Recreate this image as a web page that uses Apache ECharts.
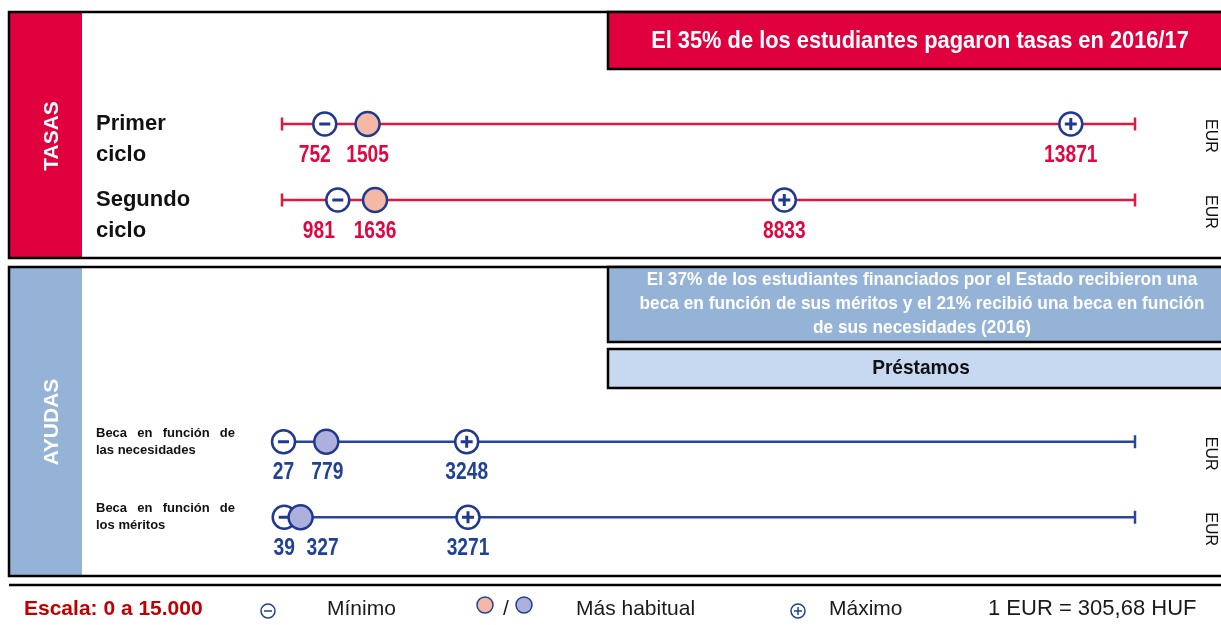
<!DOCTYPE html>
<html>
<head>
<meta charset="utf-8">
<title>Tasas y ayudas</title>
<script src="https://cdn.jsdelivr.net/npm/echarts@6/dist/echarts.min.js"></script>
<style>
  html, body { margin: 0; padding: 0; background: #fff; }
  #chart { width: 1221px; height: 625px; }
</style>
</head>
<body>
<div id="chart"></div>
<script>
// escala común (0 a 15.000 EUR)
const scaleRange = [0, 15000];

const tasasRows = ['Primer ciclo', 'Segundo ciclo'];
const tasasMin = [752, 981];
const tasasHab = [1505, 1636];
const tasasMax = [13871, 8833];

const ayudasRows = ['Beca en función de las necesidades', 'Beca en función de los méritos'];
const ayudasMin = [27, 39];
const ayudasHab = [779, 327];
const ayudasMax = [3248, 3271];

const RED = '#e1003e';
const RED_TXT = '#e3053f';
const NAVY = '#21388f';
const BLUE_LINE = '#28479b';
const BLUE_TXT = '#1f4196';
const PINK = '#f4b9a5';
const LILAC = '#adb0dc';
const STRIP_BLUE = '#95b3d7';
const LIGHT_BLUE = '#c6d9f1';
const SANS = "'Liberation Sans', Arial, sans-serif";
const PLUS = 'path://M0,4.5H12V7.5H0Z M4.5,0H7.5V12H4.5Z';

// desplazamiento horizontal de las etiquetas numéricas para que no se pisen
const tasasShift = { min: [-10, -19], hab: [0, 0], max: [0, 0] };
const ayudasShift = { min: [0, 0], hab: [1, 22], max: [0, 0] };

function panelSeries(gi, mins, habs, maxs, lineColor, txtColor, habFill, shift) {
  const ring = { color: '#fff', borderColor: NAVY, borderWidth: 2.5, opacity: 1 };
  const base = { type: 'scatter', xAxisIndex: gi, yAxisIndex: gi, clip: false, silent: true };
  const list = mins.map((_, i) => ({
    type: 'line', xAxisIndex: gi, yAxisIndex: gi, silent: true, z: 1,
    symbol: 'none', lineStyle: { color: lineColor, width: 2.5 },
    data: [[scaleRange[0], i], [scaleRange[1], i]]
  }));
  list.push(Object.assign({}, base, {
    z: 2, symbol: 'rect', symbolSize: [2.5, 13], itemStyle: { color: lineColor, opacity: 1 },
    data: mins.flatMap((_, i) => [[scaleRange[0], i], { value: [scaleRange[1], i], label: { show: true } }]),
    label: { show: false, formatter: 'EUR', position: 'inside', rotate: -90, offset: [12, -75],
      fontFamily: SANS, fontSize: 16, color: '#111' }
  }));
  list.push(Object.assign({}, base, { z: 3, symbol: 'circle', symbolSize: 23, itemStyle: ring,
    data: mins.map((v, i) => [v, i]) }));
  list.push(Object.assign({}, base, { z: 4, symbol: 'rect', symbolSize: [11, 3],
    itemStyle: { color: NAVY, opacity: 1 }, data: mins.map((v, i) => [v, i]) }));
  list.push(Object.assign({}, base, { z: 5, symbol: 'circle', symbolSize: 24,
    itemStyle: { color: habFill, borderColor: NAVY, borderWidth: 2.5, opacity: 1 },
    data: habs.map((v, i) => [v, i]) }));
  list.push(Object.assign({}, base, { z: 6, symbol: 'circle', symbolSize: 23, itemStyle: ring,
    data: maxs.map((v, i) => [v, i]) }));
  list.push(Object.assign({}, base, { z: 7, symbol: PLUS, symbolSize: 12,
    itemStyle: { color: NAVY, opacity: 1 }, data: maxs.map((v, i) => [v, i]) }));

  // cifras bajo cada marca, en letra estrecha (escalada)
  const labelData = [];
  [[mins, shift.min], [habs, shift.hab], [maxs, shift.max]].forEach(([vals, s]) => {
    vals.forEach((v, i) => labelData.push([v, i, s[i]]));
  });
  list.push({
    type: 'custom', xAxisIndex: gi, yAxisIndex: gi, z: 8, silent: true, data: labelData,
    renderItem: (params, api) => {
      const p = api.coord([api.value(0), api.value(1)]);
      return {
        type: 'text', x: p[0] + api.value(2), y: p[1] + 31, scaleX: 0.8,
        style: { text: String(api.value(0)), font: 'bold 24px ' + SANS, fill: txtColor,
          align: 'center', verticalAlign: 'middle' }
      };
    }
  });
  return list;
}

function txt(x, y, text, font, fill, align, extra) {
  const el = { type: 'text', x: x, y: y, silent: true,
    style: { text: text, font: font, fill: fill, align: align || 'left', verticalAlign: 'middle' } };
  if (extra) {
    Object.keys(extra).forEach(k => {
      if (k === 'style') Object.assign(el.style, extra.style);
      else el[k] = extra[k];
    });
  }
  return el;
}

const graphic = [
  // bloque TASAS
  { type: 'rect', shape: { x: 9, y: 12, width: 73, height: 246 }, style: { fill: RED } },
  { type: 'rect', shape: { x: 9, y: 12, width: 1230, height: 246 }, style: { fill: 'none', stroke: '#000', lineWidth: 2.5 } },
  { type: 'rect', shape: { x: 608, y: 12, width: 630, height: 57 }, style: { fill: RED, stroke: '#000', lineWidth: 2.5 } },
  txt(52, 136, 'TASAS', 'bold 21px ' + SANS, '#fff', 'center', { rotation: Math.PI / 2 }),
  txt(920, 41, 'El 35% de los estudiantes pagaron tasas en 2016/17', 'bold 24px ' + SANS, '#fff', 'center', { scaleX: 0.91 }),
  // bloque AYUDAS
  { type: 'rect', shape: { x: 9, y: 267, width: 73, height: 309 }, style: { fill: STRIP_BLUE } },
  { type: 'rect', shape: { x: 9, y: 267, width: 1230, height: 309 }, style: { fill: 'none', stroke: '#000', lineWidth: 2.5 } },
  { type: 'rect', shape: { x: 608, y: 267, width: 630, height: 75 }, style: { fill: STRIP_BLUE, stroke: '#000', lineWidth: 2.5 } },
  { type: 'rect', shape: { x: 608, y: 349, width: 630, height: 39 }, style: { fill: LIGHT_BLUE, stroke: '#000', lineWidth: 2.5 } },
  txt(52, 422, 'AYUDAS', 'bold 21px ' + SANS, '#fff', 'center', { rotation: Math.PI / 2 }),
  txt(922, 304, 'El 37% de los estudiantes financiados por el Estado recibieron una\nbeca en función de sus méritos y el 21% recibió una beca en función\nde sus necesidades (2016)',
    'bold 19px ' + SANS, '#fff', 'center', { scaleX: 0.91, style: { lineHeight: 24 } }),
  txt(921, 368, 'Préstamos', 'bold 21px ' + SANS, '#111', 'center', { scaleX: 0.91 }),
  // leyenda
  { type: 'line', shape: { x1: 9, y1: 585, x2: 1221, y2: 585 }, style: { stroke: '#000', lineWidth: 2.5 } },
  txt(24, 609, 'Escala: 0 a 15.000', 'bold 21px ' + SANS, '#c00000'),
  { type: 'circle', shape: { cx: 268, cy: 611, r: 7 }, style: { fill: '#fff', stroke: BLUE_TXT, lineWidth: 1.5 } },
  { type: 'line', shape: { x1: 264, y1: 611, x2: 272, y2: 611 }, style: { stroke: BLUE_TXT, lineWidth: 1.5 } },
  txt(327, 609, 'Mínimo', '21px ' + SANS, '#1a1a1a'),
  { type: 'circle', shape: { cx: 485, cy: 605, r: 8 }, style: { fill: PINK, stroke: BLUE_TXT, lineWidth: 1.5 } },
  txt(506, 609, '/', '21px ' + SANS, '#1a1a1a', 'center'),
  { type: 'circle', shape: { cx: 524, cy: 605, r: 8 }, style: { fill: LILAC, stroke: BLUE_TXT, lineWidth: 1.5 } },
  txt(576, 609, 'Más habitual', '21px ' + SANS, '#1a1a1a'),
  { type: 'circle', shape: { cx: 798, cy: 611, r: 7 }, style: { fill: '#fff', stroke: BLUE_TXT, lineWidth: 1.5 } },
  { type: 'line', shape: { x1: 794, y1: 611, x2: 802, y2: 611 }, style: { stroke: BLUE_TXT, lineWidth: 1.5 } },
  { type: 'line', shape: { x1: 798, y1: 607, x2: 798, y2: 615 }, style: { stroke: BLUE_TXT, lineWidth: 1.5 } },
  txt(829, 609, 'Máximo', '21px ' + SANS, '#1a1a1a'),
  txt(988, 609, '1 EUR = 305,68 HUF', '22px ' + SANS, '#1a1a1a')
];

const chart = echarts.init(document.getElementById('chart'));
chart.setOption({
  animation: false,
  backgroundColor: '#fff',
  graphic: graphic,
  grid: [
    { left: 282, right: 86, top: 86, height: 152 },
    { left: 282, right: 86, top: 404, height: 151 }
  ],
  xAxis: [0, 1].map(g => ({ type: 'value', gridIndex: g, min: scaleRange[0], max: scaleRange[1], show: false })),
  yAxis: [
    {
      type: 'category', gridIndex: 0, inverse: true, data: tasasRows,
      axisLine: { show: false }, axisTick: { show: false }, splitLine: { show: false },
      axisLabel: {
        interval: 0, align: 'left', margin: 186, fontFamily: SANS, fontWeight: 'bold', fontSize: 22,
        lineHeight: 31, color: '#111',
        // línea vacía delante para que la primera palabra quede a la altura de la línea
        formatter: v => '\n' + v.replace(' ', '\n')
      }
    },
    {
      type: 'category', gridIndex: 1, inverse: true, data: ayudasRows,
      axisLine: { show: false }, axisTick: { show: false }, splitLine: { show: false },
      axisLabel: {
        interval: 0, align: 'left', margin: 186, fontFamily: SANS, fontWeight: 'bold', fontSize: 13,
        lineHeight: 17, color: '#111',
        formatter: v => {
          const rest = v.replace('Beca en función de ', '');
          return '{a|Beca}{b|en}{c|función}{d|de}\n{e|' + rest + '}';
        },
        rich: {
          a: { width: 41.3 }, b: { width: 25.4 }, c: { width: 57.1 }, d: {}, e: {}
        }
      }
    }
  ],
  series: [].concat(
    panelSeries(0, tasasMin, tasasHab, tasasMax, '#e2183f', RED_TXT, PINK, tasasShift),
    panelSeries(1, ayudasMin, ayudasHab, ayudasMax, BLUE_LINE, BLUE_TXT, LILAC, ayudasShift)
  )
});
</script>
</body>
</html>
